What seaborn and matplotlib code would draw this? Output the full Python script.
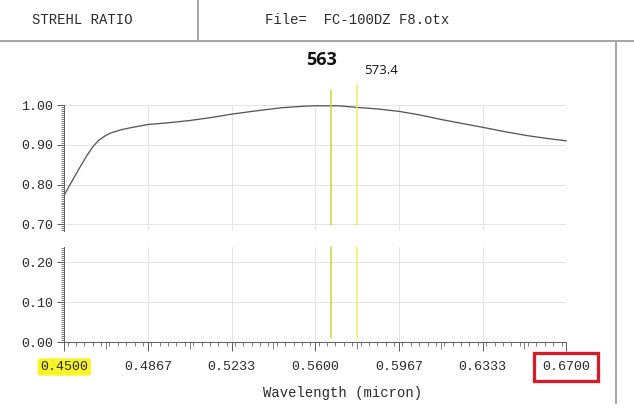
import matplotlib
matplotlib.use("Agg")
import matplotlib.pyplot as plt
import seaborn as sns
import pandas as pd
from matplotlib.lines import Line2D
from matplotlib.ticker import FixedLocator, MultipleLocator

# ---------------- data ----------------
wavelength = [0.4500, 0.4525, 0.4550, 0.4575, 0.4600, 0.4625, 0.4650, 0.4675,
              0.4700, 0.4750, 0.4800, 0.4867, 0.4950, 0.5050, 0.5150, 0.5233,
              0.5350, 0.5450, 0.5550, 0.5600, 0.5650, 0.5700, 0.5784, 0.5875,
              0.5967, 0.6058, 0.6148, 0.6240, 0.6333, 0.6430, 0.6530, 0.6615,
              0.6700]
strehl = [0.774, 0.800, 0.825, 0.850, 0.874, 0.895, 0.911, 0.921,
          0.929, 0.938, 0.944, 0.951, 0.955, 0.961, 0.969, 0.977,
          0.986, 0.993, 0.997, 0.998, 0.998, 0.998, 0.994, 0.990,
          0.984, 0.975, 0.964, 0.954, 0.944, 0.933, 0.923, 0.916,
          0.910]

x_tick_labels = ["0.4500", "0.4867", "0.5233", "0.5600", "0.5967", "0.6333", "0.6700"]
upper_y_ticks = [0.70, 0.80, 0.90, 1.00]
lower_y_ticks = [0.00, 0.10, 0.20]

marker_positions = [0.5669, 0.5783]
marker_labels = ["563", "573.4"]

header_left = "STREHL RATIO"
header_right = "File=  FC-100DZ F8.otx"
x_label = "Wavelength (micron)"

df = pd.DataFrame({"wavelength": wavelength, "strehl": strehl})
x_ticks = [float(s) for s in x_tick_labels]
mid_ticks = [(a + b) / 2 for a, b in zip(x_ticks[:-1], x_ticks[1:])]

# ---------------- style ----------------
sns.set_theme(style="white")
plt.rcParams["font.family"] = ["Liberation Mono", "DejaVu Sans Mono"]

W, H = 634, 408
fig = plt.figure(figsize=(W / 100, H / 100), dpi=100)

def fx(px):
    return px / W

def fy(py):
    return 1 - py / H

left, right = 64.3, 566.3
ax1 = fig.add_axes([fx(left), fy(231), fx(right) - fx(left), fy(105) - fy(231)])
ax2 = fig.add_axes([fx(left), fy(342.3), fx(right) - fx(left), fy(247) - fy(342.3)])

grid_c = "#e4e4e4"
spine_c = "#606060"
text_c = "#2a2a2a"
PX = 0.72  # points per pixel

sns.lineplot(data=df, x="wavelength", y="strehl", ax=ax1, color="#555555",
             linewidth=1.3 * PX, zorder=2, clip_on=False)

for ax, yl, yt in [(ax1, (0.6834, 1.0), upper_y_ticks), (ax2, (0.0, 0.2387), lower_y_ticks)]:
    ax.set_xlim(0.45, 0.67)
    ax.set_ylim(*yl)
    ax.set_facecolor("white")
    for s in ["top", "right", "bottom"]:
        ax.spines[s].set_visible(False)
    ax.spines["left"].set_color(spine_c)
    ax.spines["left"].set_linewidth(1.0 * PX)
    ax.yaxis.set_major_locator(FixedLocator(yt))
    ax.set_yticklabels([f"{v:.2f}" for v in yt])
    ax.yaxis.set_minor_locator(MultipleLocator(0.005))
    ax.xaxis.set_major_locator(FixedLocator(x_ticks))
    ax.grid(True, which="major", color=grid_c, linewidth=1.0 * PX)
    ax.tick_params(axis="y", which="major", left=True, length=7 * PX, width=1.0 * PX,
                   color=spine_c, pad=3, labelsize=9.6, labelcolor=text_c)
    ax.tick_params(axis="y", which="minor", left=True, length=3.5 * PX, width=0.8 * PX,
                   color=spine_c)
    ax.set_xlabel("")
    ax.set_ylabel("")

ax1.tick_params(axis="x", which="both", bottom=False, labelbottom=False)

ax2.spines["bottom"].set_visible(True)
ax2.spines["bottom"].set_color(spine_c)
ax2.spines["bottom"].set_linewidth(1.0 * PX)
ax2.set_xticklabels(x_tick_labels)
ax2.xaxis.set_minor_locator(MultipleLocator((x_ticks[1] - x_ticks[0]) / 10))
ax2.tick_params(axis="x", which="major", bottom=True, length=9 * PX, width=1.0 * PX,
                color=spine_c, pad=7, labelsize=9.6, labelcolor=text_c)
ax2.tick_params(axis="x", which="minor", bottom=True, length=4 * PX, width=0.8 * PX,
                color=spine_c)
sec = ax2.secondary_xaxis("bottom")
sec.set_xticks(mid_ticks)
sec.tick_params(axis="x", length=6.5 * PX, width=0.8 * PX, color=spine_c, labelbottom=False)
sec.spines["bottom"].set_visible(False)
sec.xaxis.set_minor_locator(FixedLocator([]))

ax2.set_xlabel(x_label, fontsize=10, color=text_c)
ax2.xaxis.set_label_coords((343 - left) / (right - left), -(393 - 342.3) / 95.3)
ax2.xaxis.label.set_va("center")

# highlight boxes on the first and last tick labels
labels = ax2.get_xticklabels()
labels[0].set_bbox(dict(boxstyle="round,pad=0.2", facecolor="#f7f52a", edgecolor="none"))
labels[-1].set_bbox(dict(boxstyle="square,pad=0.6", facecolor="none", edgecolor="#d01f2a",
                         linewidth=3.3 * PX))

# wavelength marker lines
marker_colors = ["#c9d23e", "#f0ec55"]
upper_tops = [1.119, 1.159]
for xpos, col, top in zip(marker_positions, marker_colors, upper_tops):
    ax1.axvline(xpos, ymin=0.05, ymax=top, color=col, linewidth=1.5 * PX, zorder=3, clip_on=False)
    ax2.axvline(xpos, ymin=0.045, ymax=1.0, color=col, linewidth=1.5 * PX, zorder=3, clip_on=False)

ax1.annotate(marker_labels[0], xy=(marker_positions[0], 1.0), xycoords=("data", "axes fraction"),
             xytext=(-6.5, 45 * PX), textcoords="offset points", ha="center", va="center",
             fontsize=13, fontweight="bold", family=["Open Sans", "DejaVu Sans"], color="#111111",
             annotation_clip=False)
ax1.annotate(marker_labels[1], xy=(marker_positions[1], 1.0), xycoords=("data", "axes fraction"),
             xytext=(7 * PX, 35 * PX), textcoords="offset points", ha="left", va="center",
             fontsize=9.5, family=["Open Sans", "DejaVu Sans"], color="#111111",
             annotation_clip=False)

# header frame
frame_c = "#a6a6a6"
fig.add_artist(Line2D([0, 1], [fy(41), fy(41)], color=frame_c, linewidth=2 * PX))
fig.add_artist(Line2D([fx(198), fx(198)], [fy(41), 1], color=frame_c, linewidth=2 * PX))
fig.add_artist(Line2D([fx(616), fx(616)], [fy(403), fy(41)], color=frame_c, linewidth=2 * PX))
fig.text(fx(32), fy(20), header_left, fontsize=10, color=text_c, ha="left", va="center")
fig.text(fx(265), fy(20), header_right, fontsize=10, color=text_c, ha="left", va="center")

fig.savefig("out.png", dpi=100, facecolor="white")
